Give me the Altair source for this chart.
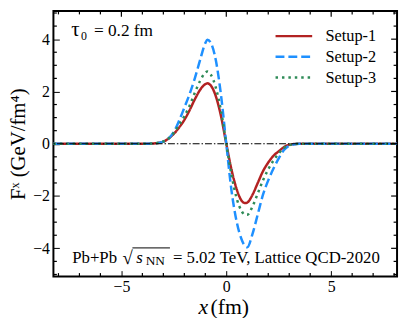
import altair as alt
import pandas as pd

# ---- data ----
x_fm = [-8.24, -4.0, -3.5, -3.0, -2.75, -2.5, -2.25, -2.0, -1.75, -1.5, -1.25, -1.0, -0.9,
        -0.75, -0.5, -0.25, 0.0, 0.25, 0.5, 0.75, 0.9, 1.0, 1.25, 1.5, 1.75, 2.0, 2.25,
        2.5, 2.75, 3.0, 3.5, 4.0, 8.14]
setup1 = [0, 0, 0.01, 0.08, 0.2, 0.38, 0.62, 0.91, 1.28, 1.7, 2.06, 2.28, 2.31,
          2.24, 1.82, 1.05, 0, -1.0, -1.75, -2.2, -2.27, -2.25, -1.95, -1.5, -1.05, -0.72, -0.46,
          -0.29, -0.13, -0.04, 0, 0, 0]
setup2 = [0, 0, 0.01, 0.08, 0.2, 0.45, 0.88, 1.38, 1.9, 2.5, 3.2, 3.85, 3.98,
          3.88, 3.2, 1.85, 0, -1.8, -3.0, -3.7, -3.92, -3.96, -3.45, -2.7, -1.95, -1.4, -0.95,
          -0.56, -0.24, -0.08, 0, 0, 0]
setup3 = [0, 0, 0.01, 0.09, 0.2, 0.42, 0.72, 1.05, 1.45, 1.95, 2.4, 2.72, 2.76,
          2.66, 2.15, 1.25, 0, -1.2, -2.1, -2.6, -2.72, -2.72, -2.4, -1.9, -1.4, -0.98, -0.64,
          -0.37, -0.16, -0.05, 0, 0, 0]
series_names = ["Setup-1", "Setup-2", "Setup-3"]
series_colors = ["#b22222", "#1e90ff", "#2e8b57"]
series_dashes = [[1, 0], [9, 4], [2.5, 4]]

x_major = [-5, 0, 5]
x_minor = [-8, -7, -6, -4, -3, -2, -1, 1, 2, 3, 4, 6, 7, 8]
y_major = [-4, -2, 0, 2, 4]
y_minor = [-5, -4.5, -3.5, -3, -2.5, -1.5, -1, -0.5, 0.5, 1, 1.5, 2.5, 3, 3.5, 4.5, 5]

rows = []
for name, vals in zip(series_names, [setup1, setup2, setup3]):
    for xv, yv in zip(x_fm, vals):
        rows.append({"x": xv, "F": yv, "setup": name})
df = pd.DataFrame(rows)

W, H = 348, 269
FONT = "Liberation Serif"
xs = alt.Scale(domain=[-8.24, 8.14], nice=False, zero=False)
ys = alt.Scale(domain=[-5.08, 5.08], nice=False, zero=False)

# major ticks drawn inward by the axes themselves (negative size through an expression)
x_main = alt.Axis(orient="bottom", values=x_major, ticks=True, tickSize={"expr": "-6"},
                  tickColor="black", tickWidth=1, domain=False, grid=False,
                  labelPadding=8, labelFont=FONT, labelFontSize=16, labelColor="black", title="")
y_main = alt.Axis(orient="left", values=y_major, ticks=True, tickSize={"expr": "-6"},
                  tickColor="black", tickWidth=1, domain=False, grid=False,
                  labelPadding=10, labelFont=FONT, labelFontSize=16, labelColor="black",
                  title="Fˣ (GeV/fm⁴)", titleFont=FONT, titleFontSize=21, titleFontWeight="normal",
                  titleColor="black", titlePadding=4)

legend = alt.Legend(title=None, orient="none", legendX=235, legendY=17, symbolType="M-2.65,0H2.65",
                    symbolSize=196, symbolStrokeWidth=2.5, labelFont=FONT, labelFontSize=16.5,
                    labelColor="black", labelOffset=23.5, padding=0, rowPadding=4, direction="vertical")

lines = alt.Chart(df).mark_line(strokeWidth=2.5, interpolate="monotone").encode(
    x=alt.X("x:Q", scale=xs, axis=x_main),
    y=alt.Y("F:Q", scale=ys, axis=y_main),
    color=alt.Color("setup:N", scale=alt.Scale(domain=series_names, range=series_colors), legend=legend),
    strokeDash=alt.StrokeDash("setup:N", scale=alt.Scale(domain=series_names, range=series_dashes), legend=legend),
)

zero = alt.Chart(alt.Data(values=[{"z": 0}])).mark_rule(color="black", strokeWidth=1.1,
                                                         strokeDash=[7, 2, 1.5, 2]).encode(
    y=alt.Y("z:Q", scale=ys, axis=None)
)

tick_rows = ([{"v": v, "side": "x", "len": 6} for v in x_major]
             + [{"v": v, "side": "x", "len": 3.5} for v in x_minor]
             + [{"v": v, "side": "y", "len": 6} for v in y_major]
             + [{"v": v, "side": "y", "len": 3.5} for v in y_minor])
tick_df = pd.DataFrame(tick_rows)


def xtick_layer(size, ypos):
    return alt.Chart(tick_df).transform_filter(
        (alt.datum.side == "x") & (alt.datum.len == size)
    ).mark_tick(color="black", thickness=1.2, size=size, opacity=1).encode(
        x=alt.X("v:Q", scale=xs, axis=None), y=alt.value(ypos))


def ytick_layer(size, xpos):
    return alt.Chart(tick_df).transform_filter(
        (alt.datum.side == "y") & (alt.datum.len == size)
    ).mark_tick(color="black", thickness=1.2, size=size, opacity=1).encode(
        y=alt.Y("v:Q", scale=ys, axis=None), x=alt.value(xpos))


tick_layers = [
    xtick_layer(6, 3),
    xtick_layer(3.5, H - 1.75), xtick_layer(3.5, 1.75),
    ytick_layer(6, W - 3),
    ytick_layer(3.5, 1.75), ytick_layer(3.5, W - 1.75),
]

one = alt.Data(values=[{"a": 1}])


def txt(s, x, y, size=17, style="normal"):
    return alt.Chart(one).mark_text(font=FONT, fontSize=size, fontStyle=style, align="left",
                                    baseline="alphabetic", color="black").encode(
        x=alt.value(x), y=alt.value(y), text=alt.value(s))


texts = [
    txt("τ", 18, 25, 21),
    txt("0", 28, 29, 12),
    txt("= 0.2 fm", 41, 25, 17.5),
    txt("Pb+Pb", 19, H - 14, 17),
    txt("√", 70, H - 13, 19),
    txt("s", 84, H - 14, 17, "italic"),
    txt("NN", 93.5, H - 12, 13.5),
    txt("= 5.02 TeV, Lattice QCD-2020", 121, H - 14, 17),
    txt("x", 147, H + 38, 22, "italic"),
    txt("(fm)", 159, H + 38, 22),
]
overline = alt.Chart(one).mark_rule(color="black", strokeWidth=1).encode(
    x=alt.value(80), x2=alt.value(118), y=alt.value(H - 29))

chart = alt.layer(lines, zero, *tick_layers, overline, *texts).resolve_axis(
    x="independent", y="independent"
).properties(
    width=W, height=H,
    autosize=alt.AutoSizeParams(type="none"),
    padding={"left": 46, "top": 1, "right": 4, "bottom": 40},
).configure_view(stroke="black", strokeWidth=2)

chart.save("out.html", embed_options={"renderer": "svg", "actions": False})
